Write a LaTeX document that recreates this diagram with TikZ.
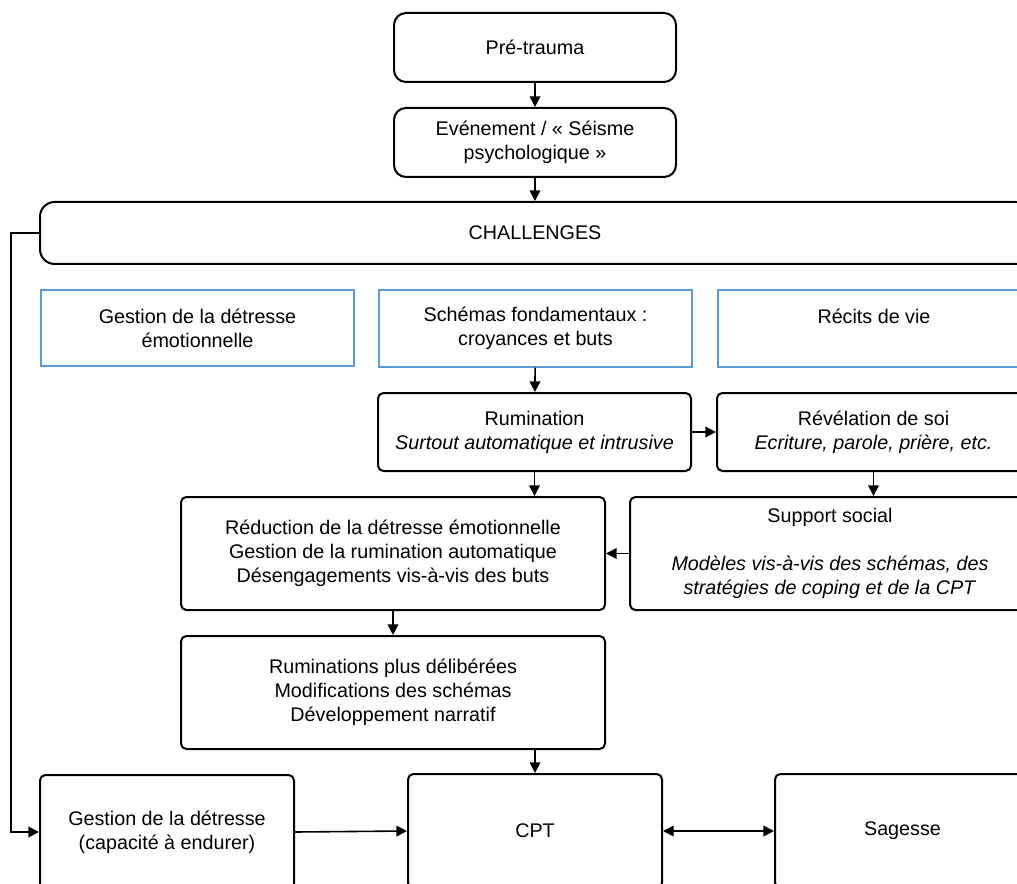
\documentclass[tikz,border=0pt]{standalone}
\usepackage{fontspec}
\setmainfont{Liberation Sans}
\usetikzlibrary{arrows.meta}
\definecolor{boxblue}{RGB}{91,155,213}
\newcommand\bx[7]{\node[#6, minimum width={(#4-#2)*0.75pt}, minimum height={(#5-#3)*0.75pt}] (#1) at ({(#2+#4)/2},{(#3+#5)/2}) {#7};}
\begin{document}
\begin{tikzpicture}[x=0.75pt,y=-0.75pt,
  base/.style={draw, inner sep=0pt, align=center, font=\fontsize{14.8}{18}\selectfont},
  bigbox/.style={base, line width=1.5pt, rounded corners=9pt},
  chbox/.style={base, line width=1.5pt, rounded corners=11pt},
  smbox/.style={base, line width=1.5pt, rounded corners=4pt},
  bluebox/.style={base, draw=boxblue, line width=1.1pt},
  conn/.style={line width=1.2pt, -{Triangle[length=8pt,width=8pt]}},
  conn2/.style={line width=1.2pt, {Triangle[length=8pt,width=8pt]}-{Triangle[length=8pt,width=8pt]}}]
\useasboundingbox (0,0) rectangle (1017,884);
\clip (0,0) rectangle (1017,884);
\bx{pre}{394}{13}{676}{82}{bigbox}{Pré-trauma}
\bx{evt}{394}{108}{676}{177}{bigbox}{Evénement / « Séisme\\psychologique »}
\bx{ch}{40}{202}{1030}{264}{chbox}{CHALLENGES}
\bx{ges}{41}{290}{354}{366}{bluebox}{Gestion de la détresse\\émotionnelle}
\bx{sch}{379}{290}{692}{367}{bluebox}{Schémas fondamentaux :\\croyances et buts}
\bx{rec}{718}{290}{1030}{367}{bluebox}{Récits de vie\\~}
\bx{rum}{378}{393}{691}{471}{smbox}{Rumination\\\textit{Surtout automatique et intrusive}}
\bx{rev}{717}{393}{1030}{471}{smbox}{Révélation de soi\\\textit{Ecriture, parole, prière, etc.}}
\bx{red}{181}{497}{605}{610}{smbox}{Réduction de la détresse émotionnelle\\Gestion de la rumination automatique\\Désengagements vis-à-vis des buts}
\bx{sup}{630}{497}{1030}{610}{smbox}{Support social\\~\\\textit{Modèles vis-à-vis des schémas, des}\\\textit{stratégies de coping et de la CPT}}
\bx{rpd}{181}{636}{605}{749}{smbox}{Ruminations plus délibérées\\Modifications des schémas\\Développement narratif}
\bx{gd}{40}{775}{294}{889}{smbox}{Gestion de la détresse\\(capacité à endurer)}
\bx{cpt}{408}{774}{662}{888}{smbox}{CPT}
\bx{sag}{775}{774}{1030}{888}{smbox}{Sagesse}
\draw[conn] (pre) -- (evt);
\draw[conn] (evt) -- (ch);
\draw[conn] (ch.west) -- ++(-28,0) |- (gd.west);
\draw[conn] (sch) -- (rum);
\draw[conn] (rum) -- (rev);
\draw[conn] (rum.south) -- (rum.south |- red.north);
\draw[conn] (rev) -- (rev |- sup.north);
\draw[conn] (sup.west |- red.east) -- (red.east);
\draw[conn] (rpd.north |- red.south) -- (rpd.north);
\draw[conn] (rpd.south -| cpt.north) -- (cpt.north);
\draw[conn] (gd.east) -- (cpt.west);
\draw[conn2] (cpt.east) -- (sag.west);
\end{tikzpicture}
\end{document}
